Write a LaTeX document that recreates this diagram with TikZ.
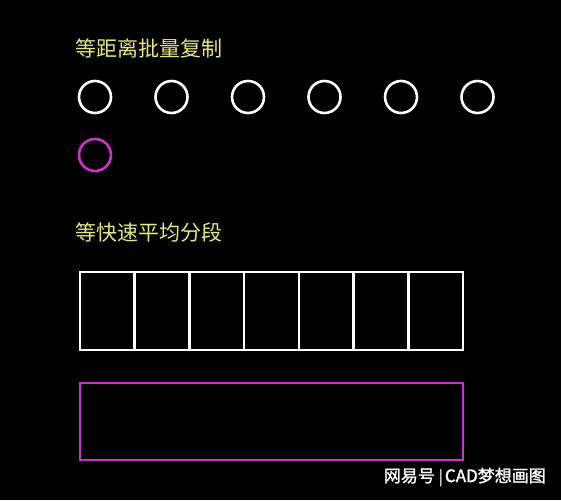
\documentclass[tikz,border=0pt]{standalone}
\usepackage{fontspec}
\newfontfamily\cjk{Noto Sans CJK SC}
\newfontfamily\cjkb{Noto Sans CJK SC}[FakeBold=1.5]
\definecolor{cadyellow}{RGB}{230,230,130}
\definecolor{cadmag}{RGB}{205,50,205}
\tikzset{
  title/.style={text=cadyellow, font=\cjk\fontsize{21}{21}\selectfont, anchor=west, inner sep=0pt},
  wcirc/.style={draw=white, line width=2.6pt, circle, minimum size=32pt, inner sep=0pt},
  mcirc/.style={draw=cadmag, line width=2.6pt, circle, minimum size=32pt, inner sep=0pt},
  wline/.style={draw=white, line width=2.6pt},
  mline/.style={draw=cadmag, line width=2.6pt},
  wm/.style={text=white, font=\cjkb\fontsize{17}{17}\selectfont, anchor=east, inner sep=0pt}
}
\begin{document}
\begin{tikzpicture}[x=1pt,y=-1pt]
\fill[black] (0,0) rectangle (561,500);
\useasboundingbox (0,0) rectangle (561,500);
\node[title] (t1) at (75,48) {等距离批量复制};
\foreach \i/\x in {1/95,2/171.5,3/248,4/324.5,5/401,6/477.5}{
  \node[wcirc] (c\i) at (\x,97) {};
}
\node[mcirc] (m1) at (95,155) {};
\node[title] (t2) at (75,232) {等快速平均分段};
\draw[wline] (80,272) rectangle (463,350);
\foreach \k in {1,...,6}{
  \draw[wline] ({80+\k*383/7},272) -- ({80+\k*383/7},350);
}
\draw[mline] (80,383) rectangle (463,460);
\node[wm] (w) at (546,477) {网易号\hspace{4pt}{\fontsize{15}{15}\selectfont |}\hspace{2pt}CAD梦想画图};
\end{tikzpicture}
\end{document}
